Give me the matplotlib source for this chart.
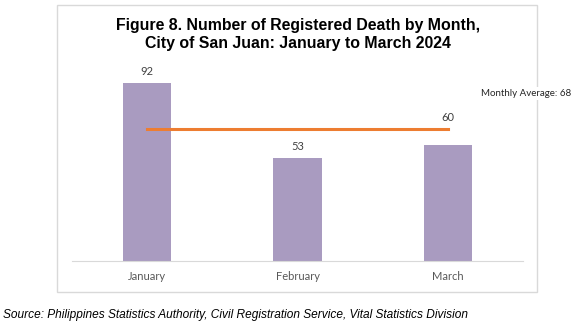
import matplotlib.pyplot as plt
from matplotlib.patches import Rectangle

months = ['January', 'February', 'March']
deaths = [92, 53, 60]
monthly_avg = 68

plt.rcParams['font.family'] = ['Lato', 'DejaVu Sans']

fig = plt.figure(figsize=(5.83, 3.32), dpi=100)

# chart frame
fig.patches.append(Rectangle((0.0978, 0.1205), 0.823, 0.864, transform=fig.transFigure,
                             facecolor='white', edgecolor='#D9D9D9', linewidth=1, zorder=-1))

ax = fig.add_axes([0.1235, 0.2139, 0.7736, 0.5828])
ax.set_facecolor('none')
x = range(len(months))
ax.bar(x, deaths, width=0.32, color='#A99BC0', zorder=2)
ax.plot([0, len(months) - 1], [monthly_avg] * 2, color='#ED7D31', linewidth=2.2, zorder=3)

for i, v in enumerate(deaths):
    # lift labels that would sit on the average line
    anchor = monthly_avg if 0 < monthly_avg - v < 10 else v
    ax.annotate(str(v), (i, anchor), xytext=(0, 4.5), textcoords='offset points',
                ha='center', va='bottom', fontsize=8, color='#404040')

ax.set_xlim(-0.5, 2.5)
ax.set_ylim(0, 100)
ax.set_xticks(list(x))
ax.set_xticklabels(months, fontsize=8, color='#595959')
ax.tick_params(axis='x', length=0, pad=7.5)
ax.set_yticks([])
for s in ['top', 'right', 'left']:
    ax.spines[s].set_visible(False)
ax.spines['bottom'].set_color('#D9D9D9')

fig.text(0.902, 0.717, 'Monthly Average: 68', ha='center', va='center', fontsize=7,
         color='#262626', bbox=dict(facecolor='white', edgecolor='none', pad=1.5))

fig.text(0.511, 0.896, 'Figure 8. Number of Registered Death by Month,\nCity of San Juan: January to March 2024',
         ha='center', va='center', fontsize=11.4, fontweight='bold',
         family='Liberation Sans', linespacing=1.3)

fig.text(0.005, 0.052, 'Source: Philippines Statistics Authority, Civil Registration Service, Vital Statistics Division',
         ha='left', va='center', fontsize=8.6, style='italic', family='Liberation Sans')

fig.savefig('out.png', dpi=100)
